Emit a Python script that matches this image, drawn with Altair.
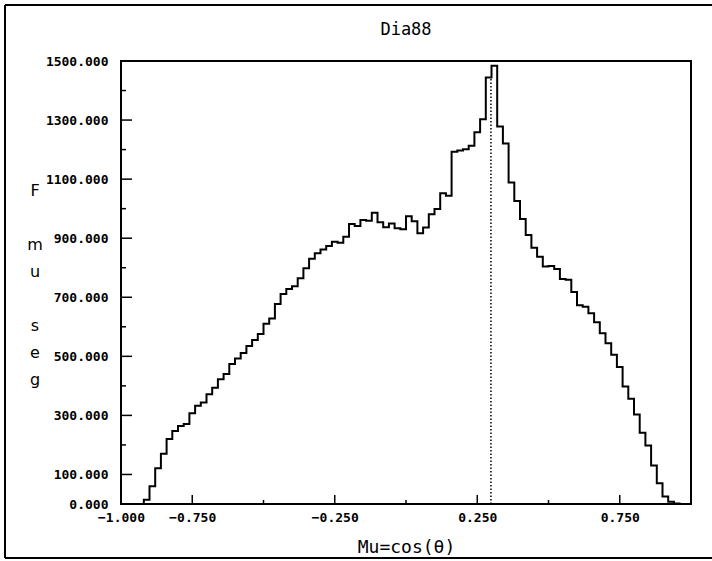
import altair as alt
import pandas as pd
import numpy as np

# Histogram of Mu = cos(theta), 100 bins of width 0.02 from -1 to 1
counts = [0, 0, 0, 0, 14, 60, 121, 170, 220, 247, 264, 271, 307, 333, 344, 372, 394, 422, 440, 474,
          493, 511, 535, 555, 576, 610, 628, 677, 711, 728, 737, 764, 798, 830, 849, 862, 874, 888, 885, 905,
          948, 941, 962, 959, 986, 954, 937, 950, 934, 930, 974, 957, 917, 936, 981, 999, 1052, 1044, 1193, 1197,
          1201, 1213, 1259, 1303, 1444, 1484, 1278, 1221, 1089, 1026, 965, 911, 868, 837, 804, 806, 796, 762, 759, 718,
          673, 668, 646, 615, 578, 544, 505, 464, 398, 356, 303, 241, 198, 130, 70, 25, 8, 2, 0, 0]
bin_edges = [round(v, 2) for v in np.arange(-1.0, 1.0001, 0.02)]

x_label_values = [-1.0, -0.75, -0.25, 0.25, 0.75]
x_major_ticks = [-0.75, -0.25, 0.25, 0.75]
x_minor_ticks = [-0.5, 0.0, 0.5]
y_label_values = [0, 100, 300, 500, 700, 900, 1100, 1300, 1500]
y_major_ticks = [100, 300, 500, 700, 900, 1100, 1300]
y_minor_ticks = [200, 400, 600, 800, 1000, 1200, 1400]
marker_mu = [0.298]
marker_top = [1444]

title_text = "Dia88"
x_title = "Mu=cos(θ)"
y_title_words = ["F", "mu", "seg"]

W, H = 570, 443
FONT = "DejaVu Sans Mono"

xs = alt.Scale(domain=[-1, 1], nice=False, zero=False)
ys = alt.Scale(domain=[0, 1500], nice=False, zero=False)

x_axis = alt.Axis(
    values=x_label_values, format=".3f", title=x_title,
    labelFlush=False, labelPadding=7, labelFontSize=13, labelFont=FONT,
    labelColor="black", labelFontWeight="bold",
    titleFont=FONT, titleFontSize=18, titleFontWeight="normal", titleColor="black",
    titleY=43, titleBaseline="middle")
y_axis = alt.Axis(
    values=y_label_values, format=".3f", title=None,
    labelPadding=13, labelFontSize=13, labelFont=FONT, labelColor="black",
    labelFontWeight="bold")

df = pd.DataFrame({"mu": bin_edges, "F": counts + [counts[-1]]})

line = alt.Chart(df).mark_line(
    interpolate="step-after", color="black", strokeWidth=2
).encode(
    x=alt.X("mu:Q", scale=xs, axis=x_axis),
    y=alt.Y("F:Q", scale=ys, axis=y_axis),
)

marker_df = pd.DataFrame({"mu": marker_mu, "F": [0], "top": marker_top})
marker = alt.Chart(marker_df).mark_rule(
    color="black", strokeWidth=1.5, strokeDash=[1.5, 2]
).encode(
    x=alt.X("mu:Q", scale=xs, axis=x_axis),
    y=alt.Y("F:Q", scale=ys, axis=y_axis),
    y2="top:Q",
)

def xticks(vals, length):
    return alt.Chart(pd.DataFrame({"mu": vals})).mark_rule(color="black", strokeWidth=1.5).encode(
        x=alt.X("mu:Q", scale=xs, axis=x_axis),
        y=alt.value(H), y2=alt.value(H - length))

def yticks(vals, length):
    return alt.Chart(pd.DataFrame({"F": vals})).mark_rule(color="black", strokeWidth=1.5).encode(
        y=alt.Y("F:Q", scale=ys, axis=y_axis),
        x=alt.value(0), x2=alt.value(length))

dummy = pd.DataFrame({"a": [0]})
frame_left = alt.Chart(dummy).mark_rule(color="black", strokeWidth=2).encode(
    x=alt.value(-116), y=alt.value(-56), y2=alt.value(497))
frame_top = alt.Chart(dummy).mark_rule(color="black", strokeWidth=2).encode(
    x=alt.value(-116), x2=alt.value(591), y=alt.value(-56))
frame_bottom = alt.Chart(dummy).mark_rule(color="black", strokeWidth=2).encode(
    x=alt.value(-116), x2=alt.value(591), y=alt.value(497))

title_mark = alt.Chart(pd.DataFrame({"t": [title_text]})).mark_text(
    font=FONT, fontSize=17, color="black", baseline="middle", align="center"
).encode(text="t:N", x=alt.value(W / 2), y=alt.value(-31))

# vertical y-axis title, one letter per line, in three word blocks
LH = 27
y_first = 135
ytitle_layers = []
line_index = 0
for word in y_title_words:
    ytitle_layers.append(
        alt.Chart(pd.DataFrame({"t": ["\n".join(word)]})).mark_text(
            font="DejaVu Sans", fontSize=16, color="black", baseline="alphabetic",
            align="center", lineBreak="\n", lineHeight=LH
        ).encode(text="t:N", x=alt.value(-86), y=alt.value(y_first + line_index * LH))
    )
    line_index += len(word) + 1

chart = alt.layer(
    line, marker,
    xticks(x_major_ticks, 9), xticks(x_minor_ticks, 4),
    yticks(y_major_ticks, 11), yticks(y_minor_ticks, 5),
    frame_left, frame_top, frame_bottom, title_mark, *ytitle_layers,
).properties(
    width=W, height=H,
    padding={"left": 121, "top": 61, "right": 21, "bottom": 57},
    autosize=alt.AutoSizeParams(type="none"),
    background="white",
).configure_view(
    stroke="black", strokeWidth=2
).configure_axis(
    domain=False, grid=False, ticks=False
)

chart.save("out.html", embed_options={"renderer": "svg", "actions": False})
